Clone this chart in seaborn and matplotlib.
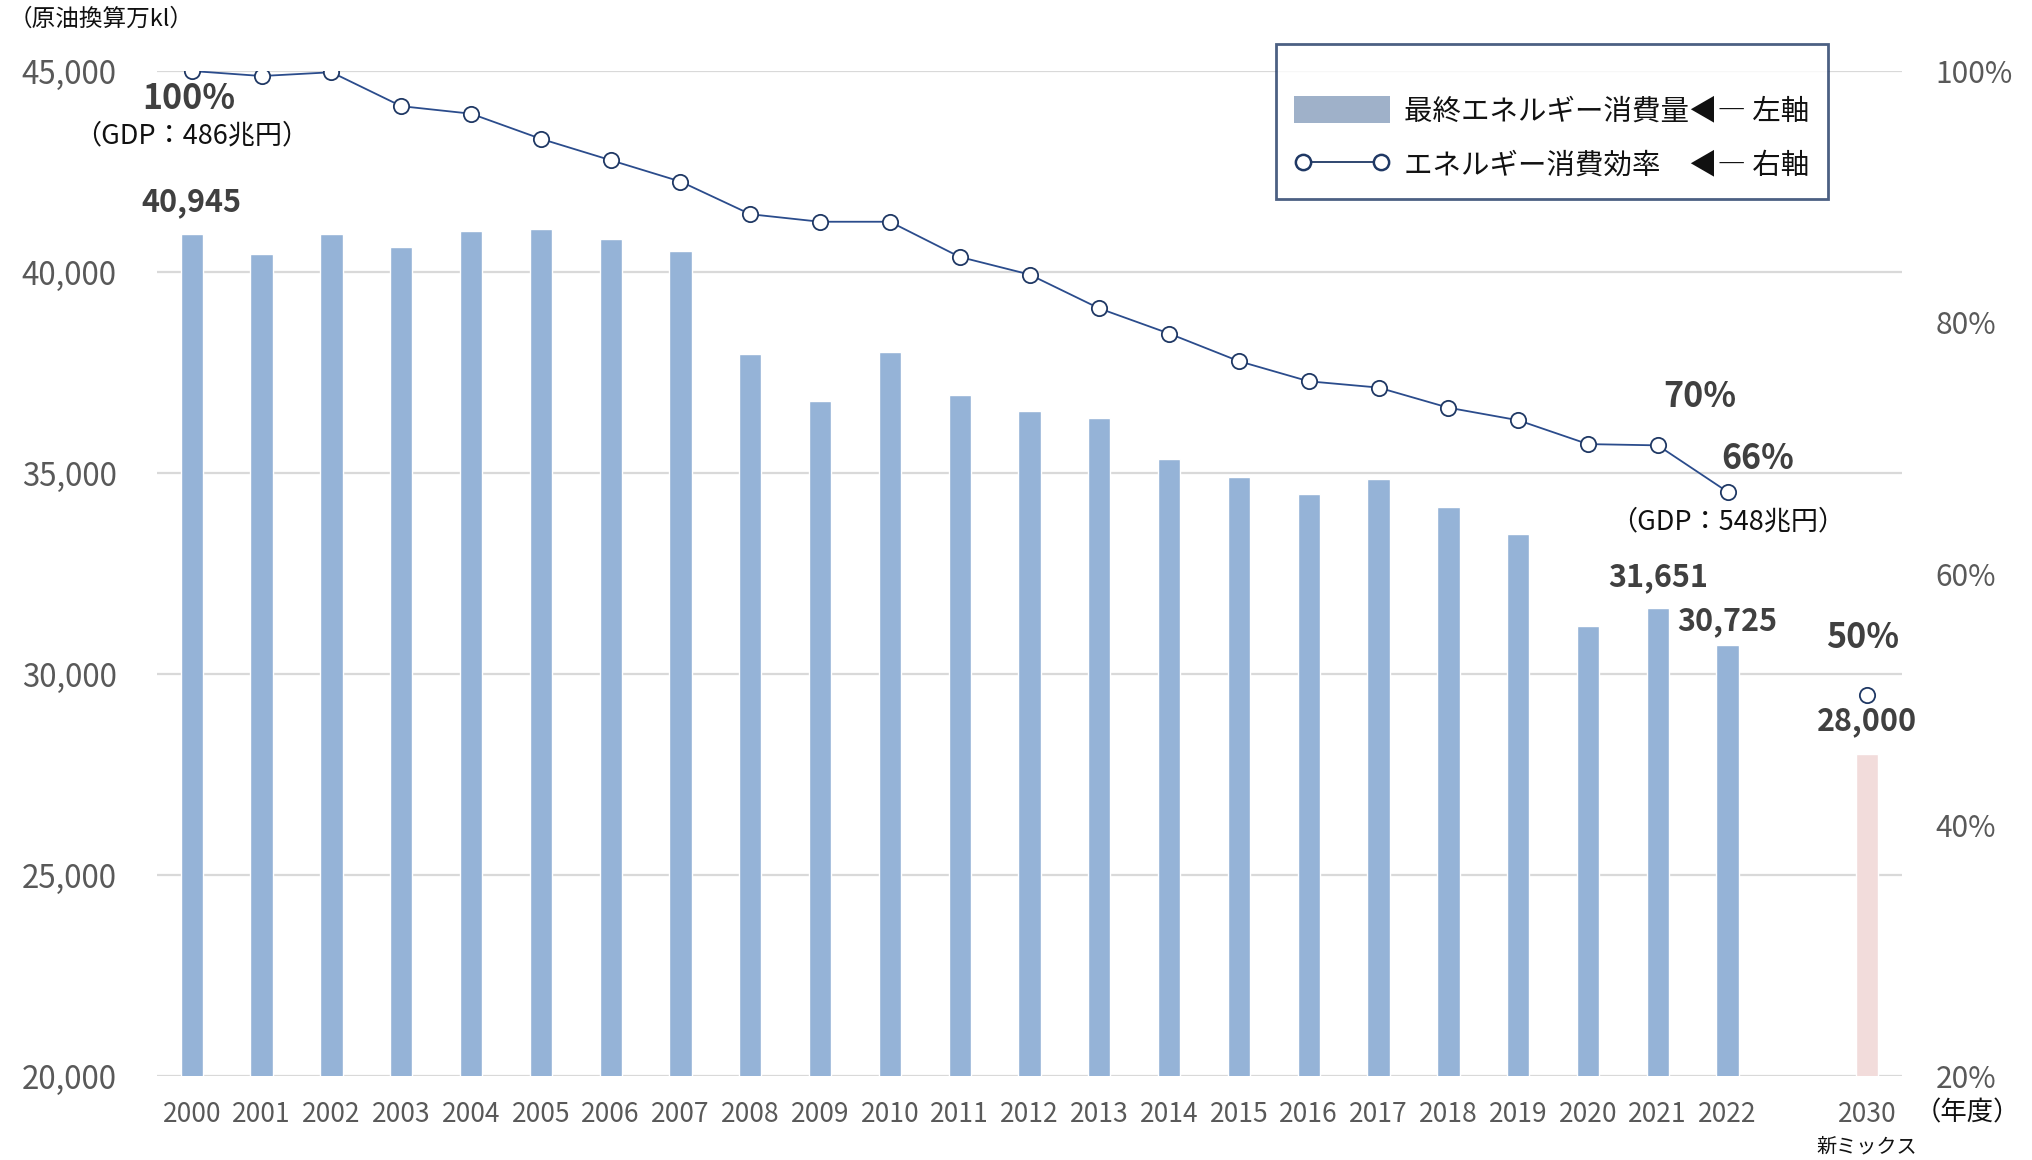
import numpy as np
import pandas as pd
import matplotlib.pyplot as plt
import seaborn as sns
from matplotlib.ticker import FuncFormatter
from matplotlib.patches import Patch
from matplotlib.lines import Line2D

# Data
years = [str(y) for y in range(2000, 2023)] + ['2030']
consumption = [40945, 40450, 40940, 40610, 41030, 41060, 40810, 40520,
               37970, 36780, 38000, 36940, 36550, 36360, 35360, 34900,
               34480, 34840, 34160, 33480, 31200, 31651, 30725, 28000]
kind = ['actual'] * 23 + ['target']
efficiency = [100.0, 99.6, 99.9, 97.2, 96.6, 94.6, 92.9, 91.2, 88.6, 88.0,
              88.0, 85.2, 83.8, 81.1, 79.1, 76.9, 75.3, 74.8, 73.2, 72.2,
              70.3, 70.2, 66.5]
efficiency_2030 = 50.3
order = years[:-1] + [''] + ['2030']

# (position in order, text, vertical offset in points)
bar_labels = [(0, '40,945', 23), (21, '31,651', 22), (22, '30,725', 17), (24, '28,000', 24)]

df = pd.DataFrame({'year': years, 'value': consumption, 'kind': kind})
value_at = dict(zip(years, consumption))

sns.set_style('white')
plt.rcParams['font.family'] = ['Noto Sans CJK JP', 'DejaVu Sans']

bar_color = '#95B3D7'
target_color = '#F2DCDB'
line_color = '#2B4C8C'
edge_color = '#1F3864'
tick_color = '#595959'
label_color = '#404040'

fig = plt.figure(figsize=(20.33, 11.6), dpi=100)
ax = fig.add_axes([0.0772, 0.0724, 0.8584, 0.8664])

sns.barplot(data=df, x='year', y='value', order=order, hue='kind',
            palette={'actual': bar_color, 'target': target_color},
            width=0.32, dodge=False, legend=False, errorbar=None,
            saturation=1, ax=ax)
ax.set_ylim(20000, 45000)
ax.set_xlim(-0.5, len(order) - 0.5)
ax.set_yticks(np.arange(20000, 45001, 5000))
ax.yaxis.set_major_formatter(FuncFormatter(lambda v, p: f'{v:,.0f}'))
ax.grid(axis='y', color='#D9D9D9', linewidth=1.6)
ax.set_axisbelow(True)
ax.set_xlabel('')
ax.set_ylabel('')
for s in ax.spines.values():
    s.set_visible(False)
ax.tick_params(axis='y', length=0, pad=29, labelsize=22.5, labelcolor=tick_color)
ax.tick_params(axis='x', length=0, pad=18, labelsize=19, labelcolor=tick_color)

# efficiency line on the right axis
ax2 = ax.twinx()
sns.lineplot(x=np.arange(len(efficiency)), y=efficiency, ax=ax2, color=line_color,
             linewidth=1.3, marker='o', markersize=11, markerfacecolor='white',
             markeredgecolor=edge_color, markeredgewidth=1.3)
sns.scatterplot(x=[order.index('2030')], y=[efficiency_2030], ax=ax2, s=121,
                facecolor='white', edgecolor=edge_color, linewidth=1.3, zorder=5)
ax2.set_ylim(20, 100)
ax2.set_yticks(np.arange(20, 101, 20))
ax2.yaxis.set_major_formatter(FuncFormatter(lambda v, p: f'{v:.0f}%'))
for s in ax2.spines.values():
    s.set_visible(False)
ax2.tick_params(axis='y', length=0, pad=24, labelsize=21.5, labelcolor=tick_color)
ax2.set_xlim(-0.5, len(order) - 0.5)

# value labels on bars
for i, txt, dy in bar_labels:
    ax.annotate(txt, xy=(i, value_at[order[i]]), xytext=(0, dy), textcoords='offset points',
                ha='center', va='center', fontsize=22, fontweight='bold', color=label_color)

# efficiency labels
pct_kw = dict(textcoords='offset points', ha='center', va='center', fontsize=24.5,
              fontweight='bold', color=label_color)
gdp_kw = dict(textcoords='offset points', ha='center', va='center', fontsize=19.5, color='#111111')
ax2.annotate('100%', xy=(0, efficiency[0]), xytext=(-2, -20), **pct_kw)
ax2.annotate('（GDP：486兆円）', xy=(0, efficiency[0]), xytext=(0, -47), **gdp_kw)
ax2.annotate('70%', xy=(21, efficiency[21]), xytext=(30, 35), **pct_kw)
ax2.annotate('66%', xy=(22, efficiency[22]), xytext=(22, 24), **pct_kw)
ax2.annotate('（GDP：548兆円）', xy=(22, efficiency[22]), xytext=(0, -22), **gdp_kw)
ax2.annotate('50%', xy=(24, efficiency_2030), xytext=(-3, 42), **pct_kw)

# axis captions
ax.annotate('新ミックス', xy=(24, 0), xycoords=('data', 'axes fraction'), xytext=(0, -51),
            textcoords='offset points', ha='center', va='center', fontsize=14.5, color='#111111')
fig.text(0.004, 0.983, '（原油換算万kl）', ha='left', va='center', fontsize=17, color='#111111')
fig.text(0.9676, 0.0405, '（年度）', ha='center', va='center', fontsize=19, color='#111111')

# legend
handles = [Patch(facecolor='#9FB1C9', edgecolor='none'),
           Line2D([0], [0], color=edge_color, linewidth=1.3, marker='o', markersize=11,
                  markerfacecolor='white', markeredgecolor=edge_color, markeredgewidth=1.8)]
labels = ['最終エネルギー消費量◀― 左軸', 'エネルギー消費効率　◀― 右軸']
leg = fig.legend(handles, labels, loc='upper left', bbox_to_anchor=(0.6275, 0.962),
                 fontsize=20.5, frameon=True, fancybox=False, handlelength=3.35,
                 handleheight=1.1, handletextpad=0.5, labelspacing=0.85,
                 borderpad=0.65, borderaxespad=0, numpoints=2, title=' ', title_fontsize=6.5)
leg.get_frame().set_edgecolor(edge_color)
leg.get_frame().set_linewidth(2)
for t in leg.get_texts():
    t.set_color('#111111')

fig.savefig('out.png', dpi=100)
